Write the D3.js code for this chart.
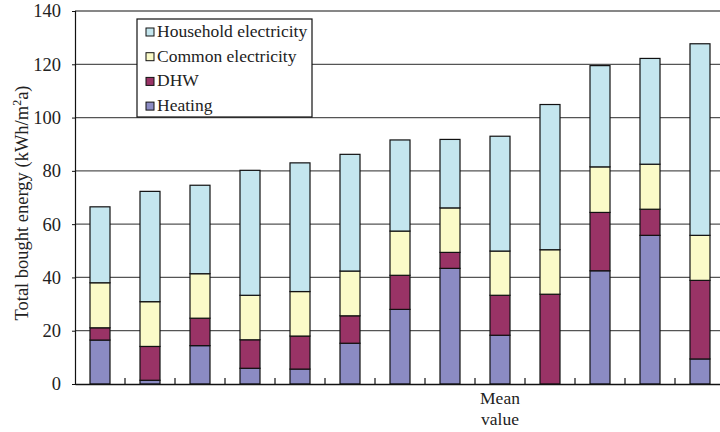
<!DOCTYPE html>
<html><head><meta charset="utf-8">
<script src="https://cdn.jsdelivr.net/npm/d3@7"></script>
<style>body{margin:0;background:#fff}svg{display:block}</style>
</head><body>
<svg id="c" width="720" height="432"></svg>
<script>
const categories = ["1","2","3","4","5","6","7","8","Mean value","10","11","12","13"];
const heating   = [16.5, 1.4, 14.4, 5.9, 5.6, 15.3, 28.0, 43.4, 18.3, 0.0, 42.5, 55.8, 9.4];
const dhw       = [4.6, 12.7, 10.3, 10.7, 12.4, 10.3, 12.8, 6.0, 15.0, 33.7, 21.9, 9.8, 29.5];
const common    = [16.9, 16.8, 16.7, 16.7, 16.7, 16.8, 16.6, 16.7, 16.6, 16.7, 17.1, 16.9, 16.9];
const household = [28.5, 41.4, 33.2, 46.9, 48.3, 43.8, 34.2, 25.7, 43.1, 54.5, 38.0, 39.7, 71.9];
const seriesNames = ["Heating","DHW","Common electricity","Household electricity"];
const seriesColors = ["#8b8bc3","#993366","#fafac8","#c4e6ee"];
const yTicks = [0,20,40,60,80,100,120,140];

const FONT = '"Liberation Serif"';
const svg = d3.select("#c");
const m = {l:75, t:11, r:725, b:384};

const x = d3.scaleBand().domain(categories).range([m.l, m.r]).paddingInner(0.6).paddingOuter(0.3);
const xc = d3.scaleBand().domain(categories).range([m.l, m.r]);
const y = d3.scaleLinear().domain([0,140]).range([m.b, m.t]);

// gridlines
svg.append("g").selectAll("line").data(yTicks.filter(d=>d>0)).join("line")
  .attr("x1", m.l).attr("x2", m.r).attr("y1", d=>y(d)).attr("y2", d=>y(d))
  .attr("stroke", d=> d===140 ? "#111" : "#555").attr("stroke-width", 1.2);

const rows = categories.map((c,i)=>({cat:c, Heating:heating[i], DHW:dhw[i], "Common electricity":common[i], "Household electricity":household[i]}));
const stack = d3.stack().keys(seriesNames)(rows);

svg.append("g").selectAll("g").data(stack).join("g")
  .attr("fill", (d,i)=>seriesColors[i])
  .selectAll("rect").data(d=>d.filter(p=>p[1]-p[0]>0)).join("rect")
  .attr("x", d=>x(d.data.cat)).attr("width", x.bandwidth())
  .attr("y", d=>y(d[1])).attr("height", d=>y(d[0])-y(d[1]))
  .attr("stroke","#111").attr("stroke-width",1.2);

// axes
const yAxis = d3.axisLeft(y).tickValues(yTicks).tickSize(3).tickPadding(11);
const gy = svg.append("g").attr("transform",`translate(${m.l},0)`).call(yAxis);
gy.select(".domain").attr("stroke","#111").attr("stroke-width",1.2);
gy.selectAll(".tick line").attr("stroke","#111");
gy.selectAll("text").style("font-family",FONT).attr("font-size",18.5).attr("fill","#222");

const xAxis = d3.axisBottom(xc).tickSize(0).tickFormat(d=> d==="Mean value" ? d : "");
const gx = svg.append("g").attr("transform",`translate(0,${m.b})`).call(xAxis);
gx.select(".domain").attr("stroke","#111").attr("stroke-width",1.5);
gx.selectAll("text").remove();
gx.append("g").selectAll("line").data(categories.slice(1)).join("line")
  .attr("x1", d=>xc(d)).attr("x2", d=>xc(d)).attr("y1",0).attr("y2",-6)
  .attr("stroke","#111").attr("stroke-width",1.2);
const cx = xc("Mean value")+xc.bandwidth()/2;
const lbl = gx.append("text").attr("x", cx).attr("y",20)
  .attr("text-anchor","middle").style("font-family",FONT).attr("font-size",17.5).attr("fill","#222");
lbl.append("tspan").attr("x", cx).attr("dy",0).text("Mean");
lbl.append("tspan").attr("x", cx).attr("dy",21).text("value");

// y title
const yt = svg.append("text").attr("transform",`translate(28,203) rotate(-90)`)
  .attr("text-anchor","middle").style("font-family",FONT).attr("font-size",18.5).attr("fill","#222");
yt.append("tspan").text("Total bought energy (kWh/m");
yt.append("tspan").attr("font-size",12).attr("dy",-7).text("2");
yt.append("tspan").attr("dy",7).text("a)");

// legend
const lg = svg.append("g").attr("transform","translate(137,19)");
lg.append("rect").attr("width",175).attr("height",98).attr("fill","#fff").attr("stroke","#111").attr("stroke-width",1.2);
const legItems = seriesNames.map((n,i)=>({n, c:seriesColors[i]})).reverse();
const li = lg.selectAll("g.li").data(legItems).join("g").attr("class","li")
  .attr("transform",(d,i)=>`translate(9,${13+i*24.7})`);
li.append("rect").attr("x",0).attr("y",-4).attr("width",8).attr("height",8)
  .attr("fill",d=>d.c).attr("stroke","#111").attr("stroke-width",1);
li.append("text").attr("x",11).attr("y",5).style("font-family",FONT).attr("font-size",17.5).attr("fill","#222").text(d=>d.n);
</script>
</body></html>
